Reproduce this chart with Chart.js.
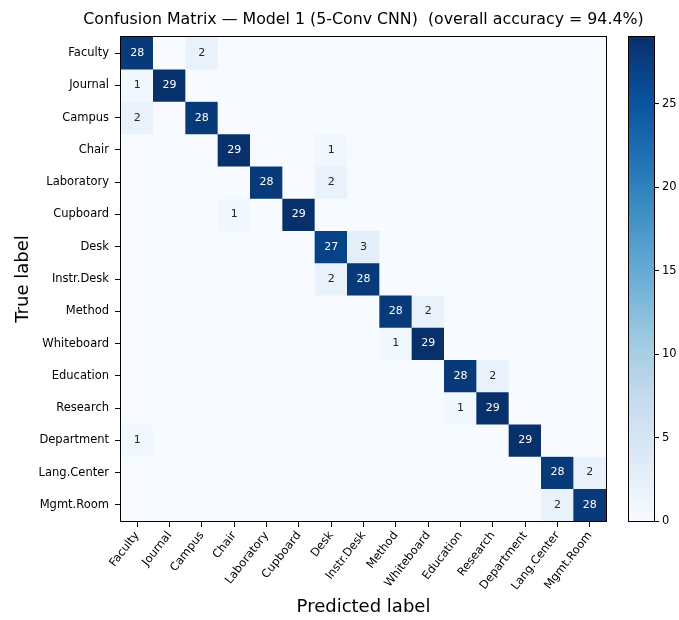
<!DOCTYPE html>
<html lang="en">
<head>
  <meta charset="UTF-8">
  <title>Confusion Matrix – Model 1</title>
  <style>
    *{box-sizing:border-box;margin:0;padding:0}
    body{background:#fff;width:679px;height:620px;overflow:hidden}
    .wrap{position:relative;width:679px;height:620px}
    #cm{position:absolute;left:0;top:0}
    #cbar{position:absolute;left:600px;top:0}
  </style>
</head>
<body>
  <div class="wrap">
    <canvas id="cm" width="679" height="620"></canvas>
    <canvas id="cbar" width="79" height="620"></canvas>
  </div>

  <script src="https://cdn.jsdelivr.net/npm/chart.js"></script>
  <script>
    // ── data ──
    const titleText = 'Confusion Matrix — Model 1 (5-Conv CNN)  (overall accuracy = 94.4%)';
    const classNames = ['Faculty','Journal','Campus','Chair','Laboratory','Cupboard','Desk','Instr.Desk',
                        'Method','Whiteboard','Education','Research','Department','Lang.Center','Mgmt.Room'];
    // rows = true label, columns = predicted label
    const rowFaculty    = [28, 0, 2, 0, 0, 0, 0, 0, 0, 0, 0, 0, 0, 0, 0];
    const rowJournal    = [ 1,29, 0, 0, 0, 0, 0, 0, 0, 0, 0, 0, 0, 0, 0];
    const rowCampus     = [ 2, 0,28, 0, 0, 0, 0, 0, 0, 0, 0, 0, 0, 0, 0];
    const rowChair      = [ 0, 0, 0,29, 0, 0, 1, 0, 0, 0, 0, 0, 0, 0, 0];
    const rowLaboratory = [ 0, 0, 0, 0,28, 0, 2, 0, 0, 0, 0, 0, 0, 0, 0];
    const rowCupboard   = [ 0, 0, 0, 1, 0,29, 0, 0, 0, 0, 0, 0, 0, 0, 0];
    const rowDesk       = [ 0, 0, 0, 0, 0, 0,27, 3, 0, 0, 0, 0, 0, 0, 0];
    const rowInstrDesk  = [ 0, 0, 0, 0, 0, 0, 2,28, 0, 0, 0, 0, 0, 0, 0];
    const rowMethod     = [ 0, 0, 0, 0, 0, 0, 0, 0,28, 2, 0, 0, 0, 0, 0];
    const rowWhiteboard = [ 0, 0, 0, 0, 0, 0, 0, 0, 1,29, 0, 0, 0, 0, 0];
    const rowEducation  = [ 0, 0, 0, 0, 0, 0, 0, 0, 0, 0,28, 2, 0, 0, 0];
    const rowResearch   = [ 0, 0, 0, 0, 0, 0, 0, 0, 0, 0, 1,29, 0, 0, 0];
    const rowDepartment = [ 1, 0, 0, 0, 0, 0, 0, 0, 0, 0, 0, 0,29, 0, 0];
    const rowLangCenter = [ 0, 0, 0, 0, 0, 0, 0, 0, 0, 0, 0, 0, 0,28, 2];
    const rowMgmtRoom   = [ 0, 0, 0, 0, 0, 0, 0, 0, 0, 0, 0, 0, 0, 2,28];
    const matrix = [rowFaculty,rowJournal,rowCampus,rowChair,rowLaboratory,rowCupboard,rowDesk,rowInstrDesk,
                    rowMethod,rowWhiteboard,rowEducation,rowResearch,rowDepartment,rowLangCenter,rowMgmtRoom];
    const colorbarTicks = [0, 5, 10, 15, 20, 25];
    const vMin = 0, vMax = 29;

    // matplotlib "Blues"
    const BLUES = ['#f7fbff','#deebf7','#c6dbef','#9ecae1','#6baed6','#4292c6','#2171b5','#08519c','#08306b'];
    const hex = h => [1,3,5].map(i => parseInt(h.substr(i,2),16));
    function blues(t){
      t = Math.max(0, Math.min(1, t));
      const s = t*(BLUES.length-1);
      const i = Math.min(Math.floor(s), BLUES.length-2);
      const f = s-i, a = hex(BLUES[i]), b = hex(BLUES[i+1]);
      return `rgb(${a.map((c,k)=>Math.round(c+(b[k]-c)*f)).join(',')})`;
    }

    Chart.defaults.font.family = "'DejaVu Sans', sans-serif";
    Chart.defaults.color = '#000';

    // frame round the plot area
    const frame = {
      id:'frame',
      beforeDatasetsDraw(chart){
        const a = chart.chartArea, c = chart.ctx;
        if (chart.canvas.id === 'cm'){ c.save(); c.fillStyle = BLUES[0]; c.fillRect(a.left,a.top,a.right-a.left,a.bottom-a.top); c.restore(); }
      },
      afterDatasetsDraw(chart){
        const a = chart.chartArea, c = chart.ctx;
        c.save(); c.strokeStyle = '#000'; c.lineWidth = 1;
        c.strokeRect(a.left-0.5, a.top-0.5, a.right-a.left+1, a.bottom-a.top+1);
        c.restore();
      }
    };

    // counts written in the cells + title centred over the matrix
    const cellText = {
      id:'cellText',
      afterDatasetsDraw(chart){
        const c = chart.ctx, xs = chart.scales.x, ys = chart.scales.y, a = chart.chartArea;
        c.save();
        c.font = "11px 'DejaVu Sans', sans-serif";
        c.textAlign = 'center'; c.textBaseline = 'middle';
        matrix.forEach((row, r) => row.forEach((v, col) => {
          if (!v) return;
          c.fillStyle = v > vMax/2 ? '#ffffff' : '#262626';
          c.fillText(String(v), xs.getPixelForValue(col), ys.getPixelForValue(r));
        }));
        c.fillStyle = '#000';
        c.font = "15.8px 'DejaVu Sans', sans-serif";
        c.fillText(titleText, (a.left + a.right)/2, 20);
        c.restore();
      }
    };

    const datasets = matrix.map((row, r) => ({
      label: classNames[r],
      data: row.map(() => [r-0.5, r+0.5]),
      backgroundColor: row.map(v => blues((v-vMin)/(vMax-vMin))),
      borderWidth: 0,
      barPercentage: 1, categoryPercentage: 1, grouped: false
    }));

    new Chart(document.getElementById('cm'), {
      type:'bar',
      data:{ labels: classNames, datasets },
      options:{
        responsive:false, animation:false,
        layout:{ padding:{ left:13, top:37, right:73, bottom:2 } },
        plugins:{ legend:{ display:false }, tooltip:{ enabled:false }, title:{ display:false } },
        scales:{
          x:{
            type:'category',
            grid:{ offset:false, drawOnChartArea:false, tickLength:6, color:'#000' },
            border:{ color:'#000' },
            ticks:{ minRotation:52, maxRotation:52, padding:2, font:{ size:11.5 }, color:'#000', autoSkip:false },
            title:{ display:true, text:'Predicted label', font:{ size:18 }, color:'#000', padding:{ top:0, bottom:0 } },
            afterFit(s){ s.height = 97; }
          },
          y:{
            type:'linear', reverse:true, min:-0.5, max:14.5,
            afterBuildTicks(s){ s.ticks = classNames.map((_, i) => ({ value:i })); },
            grid:{ drawOnChartArea:false, tickLength:6, color:'#000' },
            border:{ color:'#000' },
            ticks:{ callback:v => classNames[v], font:{ size:11.5 }, color:'#000', padding:6, autoSkip:false },
            title:{ display:true, text:'True label', font:{ size:18 }, color:'#000', padding:{ top:0, bottom:0 } },
            afterFit(s){ s.width = 108; }
          }
        }
      },
      plugins:[frame, cellText]
    });

    // colour bar
    new Chart(document.getElementById('cbar'), {
      type:'bar',
      data:{ labels:[''], datasets:[{
        data:[[vMin, vMax]],
        backgroundColor(ctx){
          const ch = ctx.chart, a = ch.chartArea;
          if (!a) return BLUES[4];
          const g = ch.ctx.createLinearGradient(0, a.bottom, 0, a.top);
          BLUES.forEach((col, i) => g.addColorStop(i/(BLUES.length-1), col));
          return g;
        },
        borderWidth:0, barPercentage:1, categoryPercentage:1
      }]},
      options:{
        responsive:false, animation:false,
        layout:{ padding:{ left:29, top:37, right:0, bottom:99 } },
        plugins:{ legend:{ display:false }, tooltip:{ enabled:false } },
        scales:{
          x:{ display:false },
          y:{
            position:'right', min:vMin, max:vMax,
            afterBuildTicks(s){ s.ticks = colorbarTicks.map(v => ({ value:v })); },
            grid:{ drawOnChartArea:false, tickLength:5, color:'#000' },
            border:{ color:'#000' },
            ticks:{ font:{ size:11.5 }, color:'#000', padding:3 },
            afterFit(s){ s.width = 25; }
          }
        }
      },
      plugins:[frame]
    });
  </script>
</body>
</html>
